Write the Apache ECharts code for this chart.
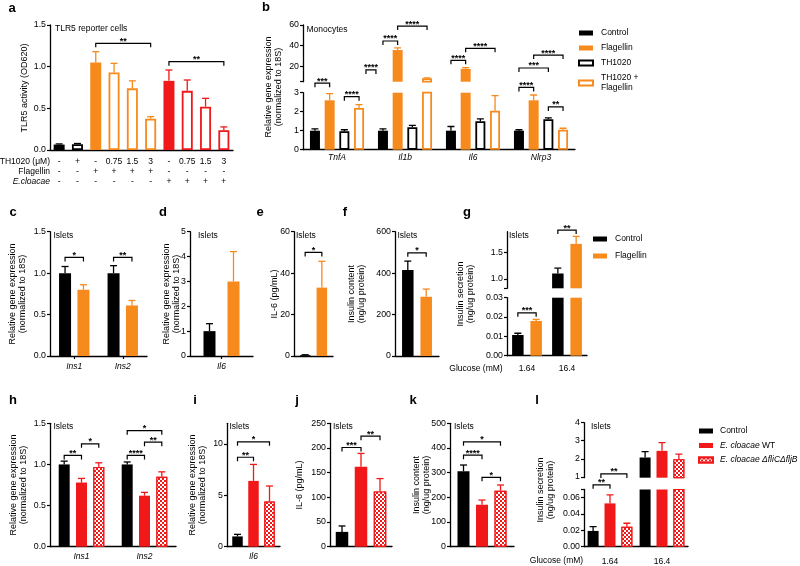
<!DOCTYPE html>
<html><head><meta charset="utf-8">
<script src="https://cdn.jsdelivr.net/npm/echarts@6/dist/echarts.min.js"></script>
<style>html,body{margin:0;padding:0;background:#fff}#c{width:800px;height:566px}</style>
</head><body><div id="c"></div>
<script>
// ================= DATA =================
// Panel a – TLR5 reporter cells
const aColumns = ['c1','c2','c3','c4','c5','c6','c7','c8','c9','c10'];
const aRowTH1020    = ['-','+','-','0.75','1.5','3','-','0.75','1.5','3'];
const aRowFlagellin = ['-','-','+','+','+','+','-','-','-','-'];
const aRowEcloacae  = ['-','-','-','-','-','-','+','+','+','+'];
const aValues = [0.065, 0.07, 1.05, 0.93, 0.74, 0.375, 0.83, 0.71, 0.52, 0.237];
const aErrors = [0.008, 0.008, 0.13, 0.11, 0.09, 0.025, 0.13, 0.13, 0.10, 0.04];
const aTicks = [0, 0.5, 1.0, 1.5];
const aBrackets = [[2,0,5,0,1.28,'**'],[6,0,9,0,1.06,'**']];

// Panel b – Monocytes
const bGenes = ['TnfA','Il1b','Il6','Nlrp3'];
const bControl = [1.0, 1.0, 1.0, 1.0];           const bControlErr = [0.1, 0.1, 0.22, 0.05];
const bFlagellin = [2.6, 35.7, 17.5, 2.6];       const bFlagellinErr = [0.35, 2.2, 1.2, 0.28];
const bTH1020 = [0.97, 1.18, 1.5, 1.6];          const bTH1020Err = [0.08, 0.1, 0.12, 0.07];
const bTHFlag = [2.2, 8.3, 2.05, 1.05];          const bTHFlagErr = [0.17, 0.5, 0.8, 0.08];
const bUpperTicks = [5, 20, 40, 60]; const bUpperLabels = [20, 40, 60];
const bLowerTicks = [0, 1, 2, 3];
const bUpperBrackets = [[1,0,1,1,44.5,'****'],[1,1,1,3,59,'****'],[2,0,2,1,25.7,'****'],[2,1,2,3,37.4,'****']];
const bLowerBrackets = [[0,0,0,1,3.5,'***'],[0,2,0,3,2.79,'****'],[0,3.47,0,4.15,4.2,'****'],
  [3,0,3,1,3.28,'****'],[3,0,3,2,4.3,'***'],[3,1,3,3,4.98,'****'],[3,2,3,3,2.25,'**']];

// Panel c – Islets Ins1/Ins2
const cGenes = ['Ins1','Ins2'];
const cControl = [1.0, 1.0];   const cControlErr = [0.08, 0.09];
const cFlagellin = [0.8, 0.61]; const cFlagellinErr = [0.06, 0.06];
const cTicks = [0, 0.5, 1.0, 1.5];
const cBrackets = [[0,0,0,1,1.19,'*'],[1,0,1,1,1.19,'**']];

// Panel d – Il6
const dGenes = ['Il6'];
const dControl = [1.0]; const dControlErr = [0.3];
const dFlagellin = [3.0]; const dFlagellinErr = [1.2];
const dTicks = [0, 1, 2, 3, 4, 5];

// Panel e – IL-6 protein
const eControl = [0.4]; const eControlErr = [0.2];
const eFlagellin = [33]; const eFlagellinErr = [12.7];
const eTicks = [0, 20, 40, 60];
const eBrackets = [[0,0,0,1,50,'*']];

// Panel f – insulin content
const fControl = [415]; const fControlErr = [43];
const fFlagellin = [286]; const fFlagellinErr = [37];
const fTicks = [0, 200, 400, 600];
const fBrackets = [[0,0,0,1,498,'*']];

// Panel g – insulin secretion
const gGlucose = ['1.64', '16.4'];
const gControl = [0.0107, 1.1];  const gControlErr = [0.0009, 0.1];
const gFlagellin = [0.018, 1.66]; const gFlagellinErr = [0.0008, 0.14];
const gUpperTicks = [0.82, 1.0, 1.5]; const gUpperLabels = [1.0, 1.5];
const gLowerTicks = [0, 0.01, 0.02, 0.03];
const gUpperBrackets = [[1,0,1,1,1.92,'**']];
const gLowerBrackets = [[0,0,0,1,0.0222,'***']];

// Panel h – Ins1/Ins2 E. cloacae
const hGenes = ['Ins1','Ins2'];
const hControl = [1.0, 1.0];  const hControlErr = [0.04, 0.03];
const hWT = [0.78, 0.62];     const hWTErr = [0.05, 0.04];
const hMut = [0.97, 0.85];    const hMutErr = [0.05, 0.06];
const hTicks = [0, 0.5, 1.0, 1.5];
const hBrackets = [[0,0,0,1,1.11,'**'],[0,1,0,2,1.25,'*'],[1,0,1,1,1.11,'****'],[1,1,1,2,1.27,'**'],[1,0,1,2,1.41,'*']];

// Panel i – Il6
const iGenes = ['Il6'];
const iControl = [1.0]; const iControlErr = [0.2];
const iWT = [6.4];      const iWTErr = [1.6];
const iMut = [4.4];     const iMutErr = [1.5];
const iTicks = [0, 5, 10];
const iBrackets = [[0,0,0,1,8.7,'**'],[0,0,0,2,10.2,'*']];

// Panel j – IL-6 protein
const jControl = [30];  const jControlErr = [12];
const jWT = [162];      const jWTErr = [27];
const jMut = [112];     const jMutErr = [26];
const jTicks = [0, 50, 100, 150, 200, 250];
const jBrackets = [[0,0,0,1,201,'***'],[0,1,0,2,224,'**']];

// Panel k – insulin content
const kControl = [306]; const kControlErr = [25];
const kWT = [170];      const kWTErr = [19];
const kMut = [227];     const kMutErr = [23];
const kTicks = [0, 100, 200, 300, 400, 500];
const kBrackets = [[0,0,0,1,371,'****'],[0,0,0,2,425,'*'],[0,1,0,2,281,'*']];

// Panel l – insulin secretion
const lGlucose = ['1.64', '16.4'];
const lControl = [0.0193, 2.07]; const lControlErr = [0.0052, 0.33];
const lWT = [0.053, 2.44];       const lWTErr = [0.0104, 0.46];
const lMut = [0.0245, 1.98];     const lMutErr = [0.0042, 0.28];
const lUpperTicks = [1, 2, 3, 4];
const lLowerTicks = [0, 0.02, 0.04, 0.06, 0.07]; const lLowerLabels = [0, 0.02, 0.04, 0.06];
const lLowerBrackets = [[0,0,0,1,0.0757,'**'],[0,0.46,0,2,0.089,'**']];

// ================= RENDER =================
const FONT = '"Liberation Sans", Arial, Helvetica, sans-serif';
const COL = {black:'#000000', orange:'#F78A1D', red:'#F01818'};
const chart = echarts.init(document.getElementById('c'), null, {renderer:'canvas'});
const opt = {animation:false, backgroundColor:'#fff', textStyle:{fontFamily:FONT},
  grid:[], xAxis:[], yAxis:[], series:[], legend:[], graphic:{elements:[]}};
const G = opt.graphic.elements;

function styleOf(kind, color){
  if (kind === 'open') return {color:'#fff', borderColor:color, borderWidth:1.8};
  if (kind === 'check') return {color:color, borderColor:color, borderWidth:1.2,
    decal:{symbol:'rect', symbolSize:1, color:'#ffffff', dashArrayX:[[2,2],[0,2,2,0]], dashArrayY:[2,0], rotation:0}};
  return {color:color, borderColor:color, borderWidth:0};
}

function errSeries(gi, vals, errs, offset, colors, clip){
  return {type:'custom', xAxisIndex:gi, yAxisIndex:gi, clip:!!clip, z:3, silent:true,
    data: vals.map((v,i)=>[i, v, errs[i]]), encode:{x:0, y:1},
    renderItem:(params, api)=>{
      const i = api.value(0), v = api.value(1), e = api.value(2);
      const p0 = api.coord([i, v]), p1 = api.coord([i, v+e]);
      const x = p0[0] + offset;
      const c = Array.isArray(colors) ? colors[params.dataIndex] : colors;
      return {type:'group', children:[
        {type:'line', shape:{x1:x, y1:p0[1], x2:x, y2:p1[1]}, style:{stroke:c, lineWidth:1.3}},
        {type:'line', shape:{x1:x-3.5, y1:p1[1], x2:x+3.5, y2:p1[1]}, style:{stroke:c, lineWidth:1.3}}
      ]};
    }};
}

function bracketSeries(gi, list, n, sp){
  return {type:'custom', xAxisIndex:gi, yAxisIndex:gi, clip:false, z:4, silent:true,
    data: list.map(b=>[b[0], b[4]]), encode:{x:0, y:1},
    renderItem:(params, api)=>{
      const b = list[params.dataIndex];
      const c1 = api.coord([b[0], b[4]]), c2 = api.coord([b[2], b[4]]);
      const x1 = c1[0] + (b[1]-(n-1)/2)*sp, x2 = c2[0] + (b[3]-(n-1)/2)*sp, y = c1[1];
      return {type:'group', children:[
        {type:'polyline', shape:{points:[[x1,y+4],[x1,y],[x2,y],[x2,y+4]]}, style:{stroke:'#000', lineWidth:1.2, fill:null}},
        {type:'text', x:(x1+x2)/2, y:y+2.5, style:{text:b[5], align:'center', verticalAlign:'bottom', fontSize:9, fontWeight:'bold', fontFamily:FONT, fill:'#000'}}
      ]};
    }};
}

function addPanel(d){
  const gi = opt.grid.length;
  const [l,t,w,h] = d.rect;
  opt.grid.push({left:l, top:t, width:w, height:h, containLabel:false, outerBoundsMode:'none'});
  const showX = d.showX !== false;
  const xl = {show: showX && !!d.xLabels, interval:0, color:'#000', fontSize:8.5, fontFamily:FONT,
    fontStyle: d.italic ? 'italic' : 'normal', margin: d.xMargin || 4, lineHeight:10, hideOverlap:false};
  if (d.xFormatter) xl.formatter = d.xFormatter;
  opt.xAxis.push({type:'category', gridIndex:gi, data:d.cats, boundaryGap:true,
    axisLine:{show:showX, onZero:false, lineStyle:{color:'#000', width:1.3}},
    axisTick:{show: showX && !!d.xTicks, alignWithLabel:true, length:3, lineStyle:{color:'#000', width:1.2}},
    axisLabel:xl, splitLine:{show:false}, splitArea:{show:false}});
  opt.yAxis.push({type:'value', gridIndex:gi, min:d.min, max:d.max,
    axisLine:{show:true, onZero:false, lineStyle:{color:'#000', width:1.3}},
    axisTick:{show:true, length:3, inside:false, customValues:d.ticks, lineStyle:{color:'#000', width:1.2}},
    axisLabel:{show:true, customValues:d.labels || d.ticks, color:'#000', fontSize:8.8, fontFamily:FONT, margin:4,
      formatter: v => Number(v).toFixed(d.dec)},
    splitLine:{show:false}, splitArea:{show:false}});
  const n = d.series.length, bw = d.barWidth, sp = d.spacing || bw;
  d.series.forEach((s,k)=>{
    const data = s.vals.map((v,i)=> s.kinds ? {value:v, itemStyle:styleOf(s.kinds[i], s.colors[i])} : v);
    const bar = {type:'bar', name:s.name, xAxisIndex:gi, yAxisIndex:gi, data:data, barWidth:bw,
      barGap: ((sp-bw)/bw*100).toFixed(1)+'%', clip:true, silent:true, z:2};
    if (!s.kinds) bar.itemStyle = styleOf(s.kind, s.color);
    opt.series.push(bar);
    opt.series.push(errSeries(gi, s.vals, s.errs, (k-(n-1)/2)*sp, s.kinds ? s.colors : s.color, d.clip));
  });
  if (d.brackets) opt.series.push(bracketSeries(gi, d.brackets, n, sp));
  return gi;
}

function text(x, y, str, st, rot){
  G.push({type:'text', x:x, y:y, rotation:rot||0, silent:true,
    style:Object.assign({text:str, fill:'#000', fontFamily:FONT, fontSize:8.5, align:'left', verticalAlign:'middle'}, st||{})});
}
function letter(x, y, s){ text(x, y, s, {fontSize:13, fontWeight:'bold', align:'center'}); }
function ytitle(x, y, s){ text(x, y, s, {fontSize:9, align:'center', lineHeight:10}, Math.PI/2); }

// ----- panel a -----
const aKinds = ['fill','open','fill','open','open','open','fill','open','open','open'];
const aCols = [COL.black,COL.black,COL.orange,COL.orange,COL.orange,COL.orange,COL.red,COL.red,COL.red,COL.red];
addPanel({rect:[50,25,183,125], cats:aColumns, min:0, max:1.5, ticks:aTicks, dec:1, barWidth:11,
  xLabels:true, xMargin:7, xFormatter:(v,i)=> aRowTH1020[i]+'\n'+aRowFlagellin[i]+'\n'+aRowEcloacae[i],
  series:[{name:'TLR5', vals:aValues, errs:aErrors, kinds:aKinds, colors:aCols}], brackets:aBrackets});
text(50, 162, 'TH1020 (μM)', {align:'right'});
text(50, 172, 'Flagellin', {align:'right'});
text(50, 182, 'E.cloacae', {align:'right', fontStyle:'italic'});
text(55, 29, 'TLR5 reporter cells');
ytitle(25, 88, 'TLR5 activity (OD620)');
letter(12, 8, 'a');

// ----- panel b -----
const bSeries = ()=>[
  {name:'Control', vals:bControl, errs:bControlErr, kind:'fill', color:COL.black},
  {name:'Flagellin', vals:bFlagellin, errs:bFlagellinErr, kind:'fill', color:COL.orange},
  {name:'TH1020', vals:bTH1020, errs:bTH1020Err, kind:'open', color:COL.black},
  {name:'TH1020 + Flagellin', vals:bTHFlag, errs:bTHFlagErr, kind:'open', color:COL.orange}];
addPanel({rect:[303,25,272,56.7], cats:bGenes, showX:false, min:5, max:60, ticks:bUpperTicks, labels:bUpperLabels, dec:0,
  barWidth:10, spacing:14.7, series:bSeries(), brackets:bUpperBrackets, clip:true});
addPanel({rect:[303,92.7,272,57], cats:bGenes, min:0, max:3, ticks:bLowerTicks, dec:0, xLabels:true, italic:true, xMargin:3,
  barWidth:10, spacing:14.7, series:bSeries(), brackets:bLowerBrackets, clip:true});
text(306.5, 29.5, 'Monocytes');
ytitle(274, 87, 'Relative gene expression\n(normalized to 18S)');
letter(266, 7, 'b');

// ----- panel c -----
addPanel({rect:[50,231.7,97,124.3], cats:cGenes, min:0, max:1.5, ticks:cTicks, dec:1, xLabels:true, italic:true, xTicks:true, xMargin:6,
  barWidth:12, spacing:18.4, brackets:cBrackets, series:[
  {name:'Control', vals:cControl, errs:cControlErr, kind:'fill', color:COL.black},
  {name:'Flagellin', vals:cFlagellin, errs:cFlagellinErr, kind:'fill', color:COL.orange}]});
text(53.5, 236, 'Islets');
ytitle(18, 294, 'Relative gene expression\n(normalized to 18S)');
letter(13, 212, 'c');

// ----- panel d -----
addPanel({rect:[190,231.7,63,124.3], cats:dGenes, min:0, max:5, ticks:dTicks, dec:0, xLabels:true, italic:true, xTicks:true, xMargin:6,
  barWidth:12, spacing:24, series:[
  {name:'Control', vals:dControl, errs:dControlErr, kind:'fill', color:COL.black},
  {name:'Flagellin', vals:dFlagellin, errs:dFlagellinErr, kind:'fill', color:COL.orange}]});
text(198, 236, 'Islets');
ytitle(172, 294, 'Relative gene expression\n(normalized to 18S)');
letter(163, 212, 'd');

// ----- panel e -----
addPanel({rect:[294,231.7,39,124.3], cats:[''], min:0, max:60, ticks:eTicks, dec:0,
  barWidth:10.5, spacing:16.7, brackets:eBrackets, series:[
  {name:'Control', vals:eControl, errs:eControlErr, kind:'fill', color:COL.black},
  {name:'Flagellin', vals:eFlagellin, errs:eFlagellinErr, kind:'fill', color:COL.orange}]});
text(296, 236, 'Islets');
ytitle(275, 294, 'IL-6 (pg/mL)');
letter(260, 212, 'e');

// ----- panel f -----
addPanel({rect:[395,231.7,44,124.3], cats:[''], min:0, max:600, ticks:fTicks, dec:0,
  barWidth:11.5, spacing:18.4, brackets:fBrackets, series:[
  {name:'Control', vals:fControl, errs:fControlErr, kind:'fill', color:COL.black},
  {name:'Flagellin', vals:fFlagellin, errs:fFlagellinErr, kind:'fill', color:COL.orange}]});
text(397.5, 236, 'Islets');
ytitle(357, 294, 'Insulin content\n(ng/ug protein)');
letter(345, 212, 'f');

// ----- panel g -----
const gSeries = ()=>[
  {name:'Control', vals:gControl, errs:gControlErr, kind:'fill', color:COL.black},
  {name:'Flagellin', vals:gFlagellin, errs:gFlagellinErr, kind:'fill', color:COL.orange}];
addPanel({rect:[507,231.7,80,56.6], cats:gGlucose, showX:false, min:0.82, max:1.89, ticks:gUpperTicks, labels:gUpperLabels, dec:1,
  barWidth:11.5, spacing:18.3, series:gSeries(), brackets:gUpperBrackets, clip:true});
addPanel({rect:[507,297.7,80,58], cats:gGlucose, min:0, max:0.03, ticks:gLowerTicks, dec:2, xLabels:true, xMargin:8,
  barWidth:11.5, spacing:18.3, series:gSeries(), brackets:gLowerBrackets, clip:true});
text(509, 236, 'Islets');
text(476, 368.5, 'Glucose (mM)', {align:'center'});
ytitle(465.5, 294, 'Insulin secretion\n(ng/ug protein)');
letter(467, 212, 'g');

// ----- panel h -----
const ecSeries = (C, Ce, W, We, M, Me)=>[
  {name:'Control', vals:C, errs:Ce, kind:'fill', color:COL.black},
  {name:'E. cloacae WT', vals:W, errs:We, kind:'fill', color:COL.red},
  {name:'E. cloacae ΔfliCΔfljB', vals:M, errs:Me, kind:'check', color:COL.red}];
addPanel({rect:[50,423.3,126,123.4], cats:hGenes, min:0, max:1.5, ticks:hTicks, dec:1, xLabels:true, italic:true, xMargin:5,
  barWidth:11, spacing:17.3, brackets:hBrackets, series:ecSeries(hControl,hControlErr,hWT,hWTErr,hMut,hMutErr)});
text(53.5, 427, 'Islets');
ytitle(19, 485, 'Relative gene expression\n(normalized to 18S)');
letter(13, 400, 'h');

// ----- panel i -----
addPanel({rect:[227,423.3,53,123.4], cats:iGenes, min:0, max:12, ticks:iTicks, dec:0, xLabels:true, italic:true, xMargin:5,
  barWidth:10.5, spacing:16, brackets:iBrackets, series:ecSeries(iControl,iControlErr,iWT,iWTErr,iMut,iMutErr)});
text(229.5, 427, 'Islets');
ytitle(198, 485, 'Relative gene expression\n(normalized to 18S)');
letter(195, 400, 'i');

// ----- panel j -----
addPanel({rect:[330,423.3,62,123.4], cats:[''], min:0, max:250, ticks:jTicks, dec:0,
  barWidth:12.5, spacing:19, brackets:jBrackets, series:ecSeries(jControl,jControlErr,jWT,jWTErr,jMut,jMutErr)});
text(333, 427, 'Islets');
ytitle(299.5, 485, 'IL-6 (pg/mL)');
letter(297, 400, 'j');

// ----- panel k -----
addPanel({rect:[450,423.3,64,123.4], cats:[''], min:0, max:500, ticks:kTicks, dec:0,
  barWidth:12, spacing:18.5, brackets:kBrackets, series:ecSeries(kControl,kControlErr,kWT,kWTErr,kMut,kMutErr)});
text(454, 427, 'Islets');
ytitle(422, 485, 'Insulin content\n(ng/ug protein)');
letter(413, 400, 'k');

// ----- panel l -----
addPanel({rect:[584,422.7,104,55], cats:lGlucose, showX:false, min:0.95, max:4, ticks:lUpperTicks, dec:0,
  barWidth:11, spacing:16.9, clip:true, series:ecSeries(lControl,lControlErr,lWT,lWTErr,lMut,lMutErr)});
addPanel({rect:[584,489.5,104,57.2], cats:lGlucose, min:0, max:0.07, ticks:lLowerTicks, labels:lLowerLabels, dec:2, xLabels:true, xMargin:10,
  barWidth:11, spacing:16.9, clip:true, brackets:lLowerBrackets, series:ecSeries(lControl,lControlErr,lWT,lWTErr,lMut,lMutErr)});
text(591, 427, 'Islets');
text(556.5, 560.5, 'Glucose (mM)', {align:'center'});
ytitle(546, 490, 'Insulin secretion\n(ng/ug protein)');
letter(537, 400, 'l');

// ----- legends -----
const legBase = {orient:'vertical', icon:'rect', itemWidth:14, itemHeight:5, selectedMode:false, padding:0,
  textStyle:{fontSize:8.5, fontFamily:FONT, color:'#000', lineHeight:10, padding:[0,0,0,3]}};
opt.legend.push(Object.assign({}, legBase, {left:578, top:28, itemGap:5,
  data:['Control','Flagellin','TH1020','TH1020 + Flagellin'],
  formatter: n => n === 'TH1020 + Flagellin' ? 'TH1020 +\nFlagellin' : n}));
opt.legend.push(Object.assign({}, legBase, {left:593, top:234, itemGap:7, data:['Control','Flagellin']}));
opt.legend.push(Object.assign({}, legBase, {left:698, top:426, itemGap:4.5,
  data:['Control','E. cloacae WT','E. cloacae ΔfliCΔfljB'],
  formatter: n => n === 'E. cloacae WT' ? '{i|E. cloacae} WT' : (n === 'Control' ? n : '{i|' + n + '}'),
  textStyle:{fontSize:8.5, fontFamily:FONT, color:'#000', lineHeight:10, padding:[0,0,0,2],
    rich:{i:{fontStyle:'italic', fontSize:8.5, fontFamily:FONT, color:'#000'}}}}));

chart.setOption(opt);
</script></body></html>
